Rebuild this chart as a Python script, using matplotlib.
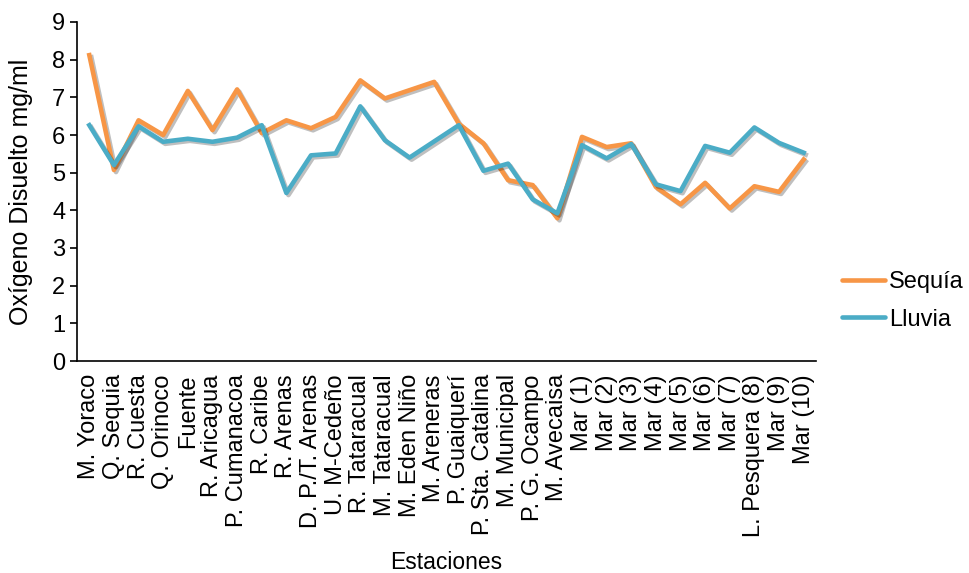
import matplotlib.pyplot as plt
import matplotlib.patheffects as pe

plt.rcParams['font.family'] = ['Liberation Sans', 'DejaVu Sans']

## stations and dissolved oxygen per season
estaciones = ['M. Yoraco', 'Q. Sequia', 'R. Cuesta', 'Q. Orinoco', 'Fuente',
              'R. Aricagua', 'P. Cumanacoa', 'R. Caribe', 'R. Arenas',
              'D. P./T. Arenas', 'U. M-Cedeño', 'R. Tataracual', 'M. Tataracual',
              'M. Eden Niño', 'M. Areneras', 'P. Guaiquerí', 'P. Sta. Catalina',
              'M. Municipal', 'P. G. Ocampo', 'M. Avecaisa', 'Mar (1)', 'Mar (2)',
              'Mar (3)', 'Mar (4)', 'Mar (5)', 'Mar (6)', 'Mar (7)',
              'L. Pesquera (8)', 'Mar (9)', 'Mar (10)']
sequia = [8.12, 5.07, 6.39, 6.0, 7.17, 6.13, 7.21, 6.05, 6.39, 6.18,
          6.48, 7.45, 6.97, 7.19, 7.41, 6.3, 5.78, 4.8, 4.67, 3.79,
          5.95, 5.68, 5.78, 4.62, 4.16, 4.73, 4.05, 4.64, 4.49, 5.35]
lluvia = [6.26, 5.2, 6.23, 5.82, 5.9, 5.82, 5.93, 6.26, 4.46, 5.46,
          5.51, 6.76, 5.86, 5.4, 5.83, 6.26, 5.05, 5.24, 4.29, 3.92,
          5.73, 5.38, 5.76, 4.69, 4.51, 5.71, 5.53, 6.2, 5.79, 5.53]

fig = plt.figure(figsize=(9.69, 5.73), dpi=100)
ax = fig.add_axes([77/969, 1 - 361/573, (816 - 77)/969, (361 - 22)/573])

# lines with a soft drop shadow
shadow = [pe.SimpleLineShadow(offset=(1.5, -1.5), alpha=0.25), pe.Normal()]
x = range(len(estaciones))
ax.plot(x, sequia, color='#F79646', lw=3.3, label='Sequía', path_effects=shadow,
        solid_joinstyle='round')
ax.plot(x, lluvia, color='#4BACC6', lw=3.3, label='Lluvia', path_effects=shadow,
        solid_joinstyle='round')

ax.set_xlim(-0.5, len(estaciones) - 0.5)
ax.set_ylim(0, 9)
ax.set_yticks(range(10))
ax.set_xticks(list(x))
ax.set_xticklabels(estaciones, rotation=90)
ax.tick_params(axis='x', length=0, labelsize=17, pad=9.5)
ax.tick_params(axis='y', length=5, width=1.2, labelsize=17, direction='out')
for s in ['top', 'right']:
    ax.spines[s].set_visible(False)
for s in ['left', 'bottom']:
    ax.spines[s].set_linewidth(1.2)

ax.set_xlabel('Estaciones', fontsize=16.5, labelpad=10)
ax.set_ylabel('Oxígeno Disuelto mg/ml', fontsize=18)
ax.yaxis.set_label_coords(-(77 - 33) / 739, 0.5)

leg = ax.legend(loc='center left', bbox_to_anchor=(842/969, 1 - 301/573),
                bbox_transform=fig.transFigure, frameon=False, borderpad=0,
                borderaxespad=0, fontsize=17, handlelength=1.8,
                handletextpad=0.2, labelspacing=0.65)
for line in leg.get_lines():
    line.set_solid_capstyle('round')
    line.set_path_effects([])

fig.savefig('out.png', dpi=100)
